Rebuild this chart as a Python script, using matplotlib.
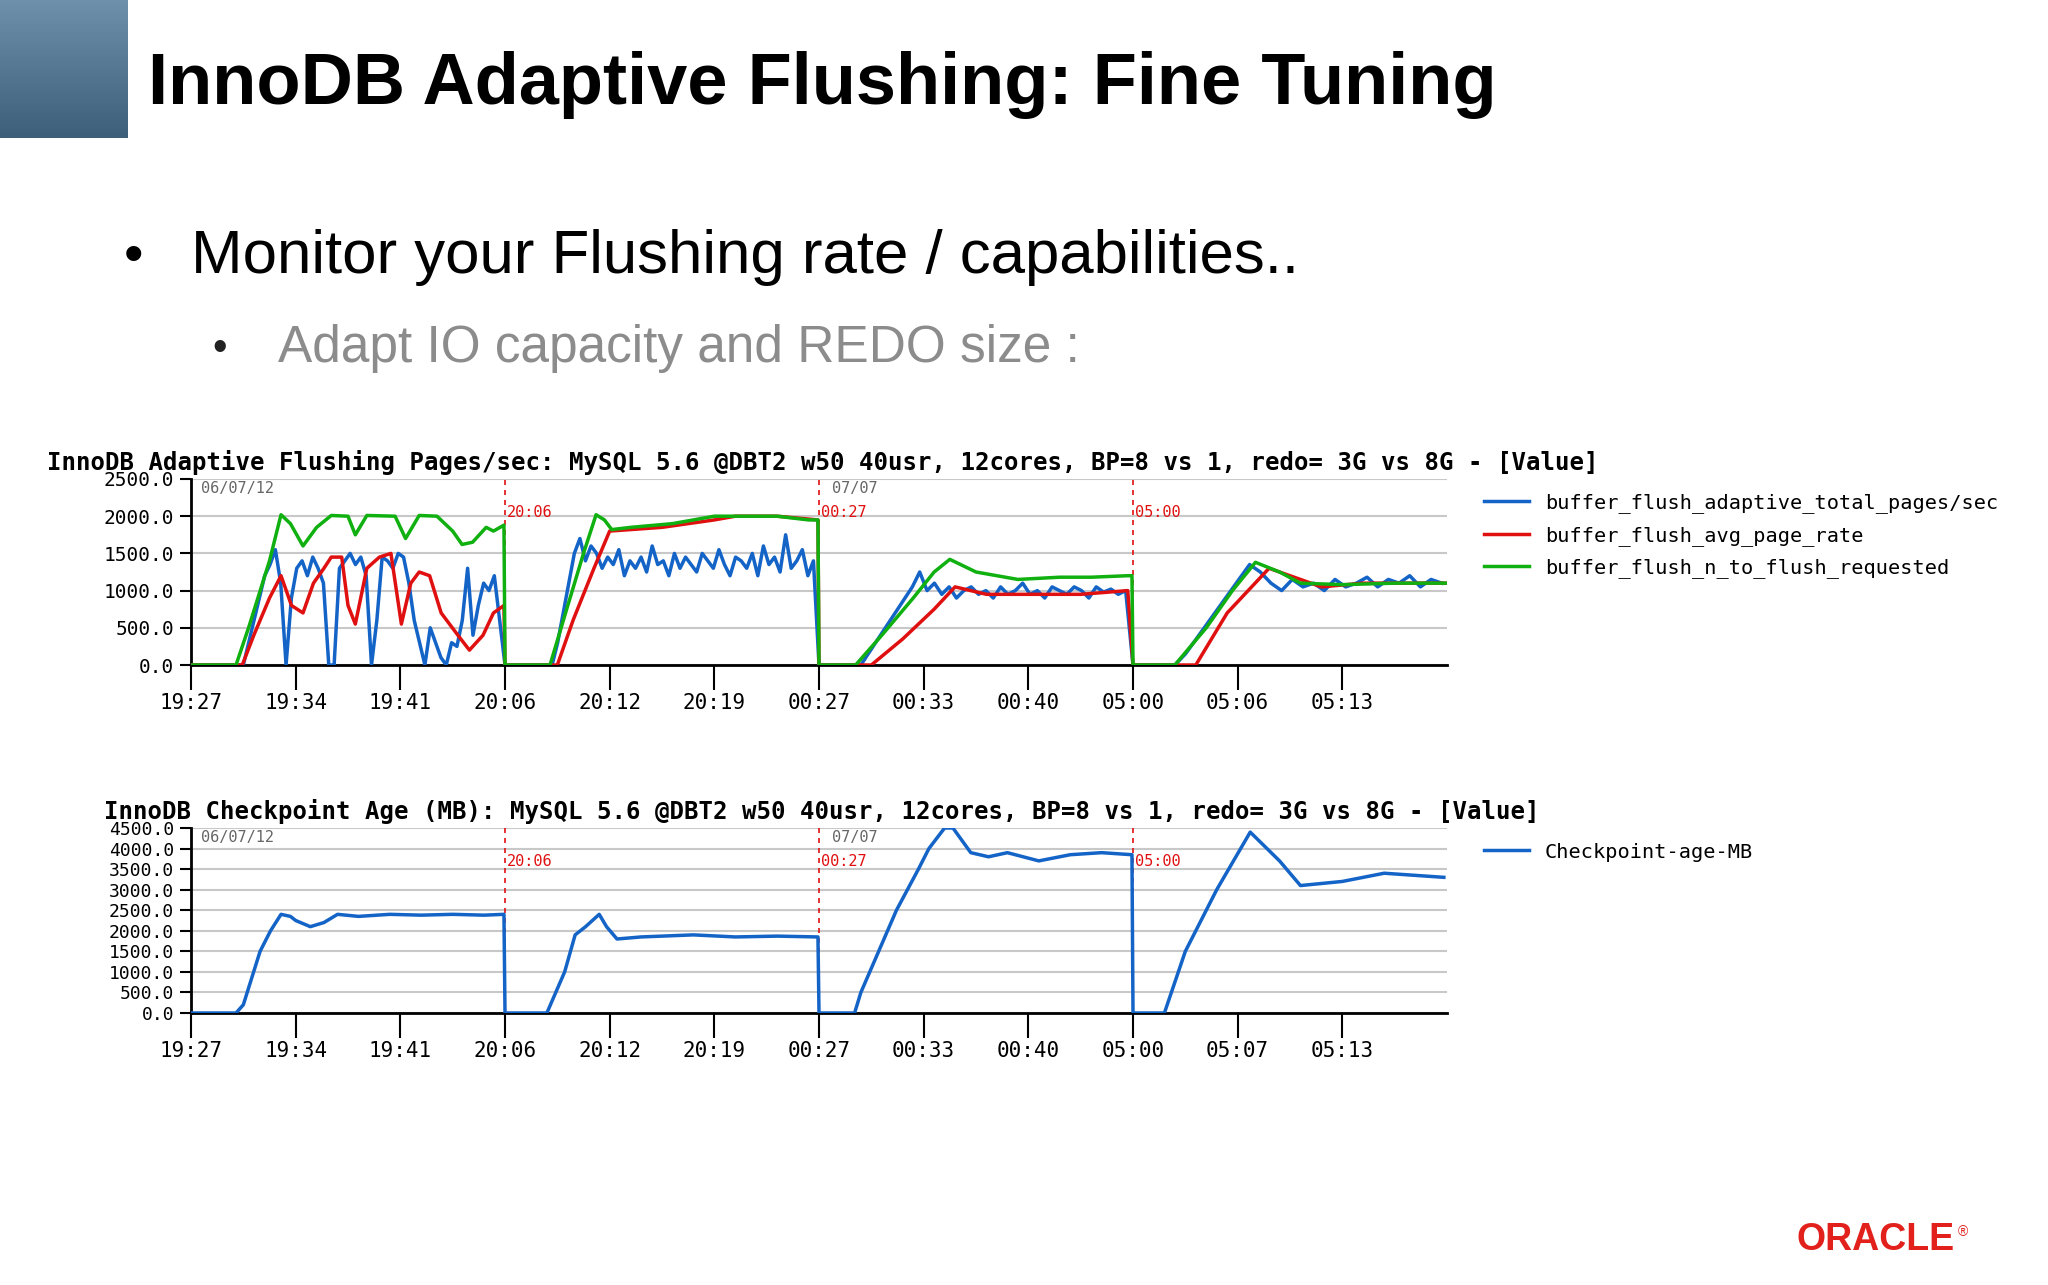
import matplotlib
matplotlib.use("Agg")
import matplotlib.pyplot as plt
import numpy as np

W, H = 2048, 1285
tick_labels_top = ["19:27","19:34","19:41","20:06","20:12","20:19","00:27","00:33","00:40","05:00","05:06","05:13"]
tick_labels_bot = ["19:27","19:34","19:41","20:06","20:12","20:19","00:27","00:33","00:40","05:00","05:07","05:13"]
restarts = [3, 6, 9]
restart_labels = ["20:06", "00:27", "05:00"]

# --- top chart: green (n_to_flush_requested)
green_x = [0,0.43,0.55,0.75,0.86,0.95,1.07,1.2,1.34,1.5,1.57,1.68,1.95,2.05,2.18,2.35,2.5,2.59,2.69,2.82,2.89,2.99,3.0,
           3.0,3.43,3.6,3.75,3.87,3.95,4.02,4.2,4.6,5.0,5.6,5.9,5.99,6.0,
           6.0,6.35,6.6,6.9,7.1,7.25,7.5,7.9,8.3,8.6,8.95,8.99,9.0,
           9.0,9.4,9.7,9.95,10.17,10.4,10.6,11.0,11.5,12.0]
green_y = [0,0,500,1400,2020,1900,1600,1850,2010,2000,1750,2010,2000,1700,2010,2000,1800,1620,1650,1850,1800,1880,0,
           0,0,800,1500,2020,1950,1820,1850,1900,2000,2000,1950,1950,0,
           0,0,400,900,1250,1420,1250,1150,1180,1180,1200,1200,0,
           0,0,500,1000,1380,1250,1100,1080,1100,1100]
red_x = [0,0.49,0.6,0.75,0.86,0.96,1.07,1.17,1.27,1.34,1.44,1.5,1.57,1.68,1.8,1.91,2.01,2.1,2.18,2.28,2.39,2.55,2.66,2.79,2.89,2.99,3.0,
         3.0,3.5,3.65,3.85,4.0,4.5,5.0,5.2,5.6,5.99,6.0,
         6.0,6.5,6.8,7.1,7.3,7.6,8.0,8.5,8.95,9.0,
         9.0,9.6,9.9,10.3,10.5,10.8,11.2,12.0]
red_y = [0,0,400,900,1200,800,700,1100,1300,1450,1450,800,550,1300,1450,1500,550,1100,1250,1200,700,400,200,400,700,800,0,
         0,0,600,1300,1800,1850,1950,2000,2000,1950,0,
         0,0,350,750,1050,950,950,950,1000,0,
         0,0,700,1300,1200,1050,1100,1100]
blue1_y = [0,300,600,900,1200,1350,1550,1100,0,900,1300,1400,1200,1450,1300,1100,0,0,1300,1400,1500,1350,1450,1200,0,
           600,1450,1400,1300,1500,1450,1100,600,300,0,500,300,100,0,300,250,600,1300,400,800,1100,1000,1200,600,0]
blue2_y = [0,300,700,1100,1500,1700,1400,1600,1500,1300,1450,1350,1550,1200,1400,1300,1450,1250,1600,1350,1400,1200,
           1500,1300,1450,1350,1250,1500,1400,1300,1550,1350,1200,1450,1400,1300,1500,1200,1600,1350,1450,1250,1750,1300,1400,
           1550,1200,1400,0]
blue3_y = [0,150,300,450,600,750,900,1050,1250,1000,1100,950,1050,900,1000,1050,950,1000,900,1050,950,1000,1100,950,1000,900,1050,
           1000,950,1050,1000,900,1050,980,1020,950,1000,0]
blue4_y = [0,150,350,550,750,950,1150,1350,1250,1100,1000,1150,1050,1100,1000,1150,1050,1100,1180,1050,1150,1100,1200,1050,1150,1100]

# --- bottom chart: checkpoint age
ck_x = [0,0.43,0.5,0.66,0.76,0.86,0.95,1.0,1.14,1.27,1.4,1.6,1.9,2.2,2.5,2.8,2.99,3.0,
        3.0,3.4,3.57,3.67,3.77,3.9,3.97,4.07,4.3,4.8,5.2,5.6,5.99,6.0,
        6.0,6.34,6.4,6.74,6.95,7.05,7.2,7.28,7.45,7.62,7.8,8.1,8.4,8.7,8.99,9.0,
        9.0,9.3,9.5,9.8,10.12,10.4,10.6,11.0,11.4,11.97]
ck_y = [0,0,200,1500,2000,2400,2350,2250,2100,2200,2400,2350,2400,2380,2400,2380,2400,0,
        0,0,1000,1900,2100,2400,2100,1800,1850,1900,1850,1870,1850,0,
        0,0,500,2500,3500,4000,4500,4500,3900,3800,3900,3700,3850,3900,3850,0,
        0,0,1500,3000,4400,3700,3100,3200,3400,3300]

BLUE = "#1464c8"; RED = "#e01010"; GREEN = "#10b010"

fig = plt.figure(figsize=(W/100, H/100), dpi=100)
fig.patch.set_facecolor("white")

# corner block
cax = fig.add_axes([0, 1-138/H, 128/W, 138/H])
grad = np.linspace(0, 1, 100).reshape(-1, 1)
cax.imshow(grad, aspect="auto", cmap=matplotlib.colors.LinearSegmentedColormap.from_list("c", ["#6f90aa", "#3e5f7a"]))
cax.axis("off")

sans = ["Liberation Sans", "DejaVu Sans"]
fig.text(148/W, 1-85/H, "InnoDB Adaptive Flushing: Fine Tuning", fontsize=52, fontweight="bold", family=sans, va="center")
fig.text(124/W, 1-258/H, "•", fontsize=40, family=sans, va="center")
fig.text(191/W, 1-258/H, "Monitor your Flushing rate / capabilities..", fontsize=44.5, family=sans, va="center")
fig.text(212/W, 1-349/H, "•", fontsize=30, family=sans, va="center", color="#222222")
fig.text(278/W, 1-349/H, "Adapt IO capacity and REDO size :", fontsize=37, family=sans, va="center", color="#8c8c8c")
fig.text(1955/W, 1-1240/H, "ORACLE", fontsize=27, fontweight="bold", family=sans, va="center", ha="right", color="#e2211c")
fig.text(1958/W, 1-1232/H, "®", fontsize=10, family=sans, va="center", color="#e2211c")

mono = "DejaVu Sans Mono"

def style_axes(ax, ymax, ystep, labels, date2="07/07"):
    ax.set_xlim(0, 12)
    ax.set_ylim(0, ymax)
    ax.set_yticks(np.arange(0, ymax + 1, ystep))
    ax.set_yticklabels([f"{v:.1f}" for v in np.arange(0, ymax + 1, ystep)], family=mono, fontsize=14)
    ax.set_xticks(range(12))
    ax.set_xticklabels(labels, family=mono, fontsize=15)
    ax.grid(axis="y", color="#c8c8c8", lw=1.5)
    ax.set_axisbelow(True)
    for s in ["top", "right"]:
        ax.spines[s].set_visible(False)
    ax.spines["left"].set_linewidth(2)
    ax.spines["bottom"].set_linewidth(2)
    ax.tick_params(axis="x", length=18, width=1.5, pad=2)
    ax.tick_params(axis="y", length=8, width=1.5, pad=4)
    for xr, lab in zip(restarts, restart_labels):
        ax.axvline(xr, color=RED, ls=(0, (3, 3)), lw=1.2, zorder=1)
        ax.text(xr + 0.02, ymax * 0.82, lab, color=RED, family=mono, fontsize=11, va="center")
    ax.text(0.1, ymax * 0.95, "06/07/12", color="#666666", family=mono, fontsize=11, va="center")
    ax.text(6.12, ymax * 0.95, date2, color="#666666", family=mono, fontsize=11, va="center")

ax1 = fig.add_axes([191/W, 1-665/H, (1447-191)/W, (665-479)/H])
style_axes(ax1, 2500, 500, tick_labels_top)
segs = [(0.5, 3.0, blue1_y), (3.45, 6.0, blue2_y), (6.4, 9.0, blue3_y), (9.4, 11.95, blue4_y)]
for i, (a, b, ys) in enumerate(segs):
    xs = np.linspace(a, b, len(ys))
    ax1.plot(np.r_[a - (0.5 if i == 0 else 0.4), xs], np.r_[0, ys], color=BLUE, lw=2.5, zorder=3,
             label="buffer_flush_adaptive_total_pages/sec" if i == 0 else None)
ax1.plot(red_x, red_y, color=RED, lw=2.5, zorder=4, label="buffer_flush_avg_page_rate")
ax1.plot(green_x, green_y, color=GREEN, lw=2.5, zorder=5, label="buffer_flush_n_to_flush_requested")
fig.text(47/W, 1-462/H, "InnoDB Adaptive Flushing Pages/sec: MySQL 5.6 @DBT2 w50 40usr, 12cores, BP=8 vs 1, redo= 3G vs 8G - [Value]",
         family=mono, fontweight="bold", fontsize=17.3, va="center")
ax1.legend(loc="upper left", bbox_to_anchor=(1.015, 1.02), frameon=False, prop={"family": mono, "size": 14.6},
           handlelength=2.2, labelspacing=0.6)

ax2 = fig.add_axes([191/W, 1-1013/H, (1447-191)/W, (1013-828)/H])
style_axes(ax2, 4500, 500, tick_labels_bot)
ax2.set_yticklabels([f"{v:.1f}" for v in np.arange(0, 4501, 500)], family=mono, fontsize=13)
ax2.plot(ck_x, ck_y, color=BLUE, lw=2.5, label="Checkpoint-age-MB", zorder=3)
fig.text(104/W, 1-812/H, "InnoDB Checkpoint Age (MB): MySQL 5.6 @DBT2 w50 40usr, 12cores, BP=8 vs 1, redo= 3G vs 8G - [Value]",
         family=mono, fontweight="bold", fontsize=17.3, va="center")
ax2.legend(loc="upper left", bbox_to_anchor=(1.015, 1.02), frameon=False, prop={"family": mono, "size": 14.6}, handlelength=2.2)

fig.savefig("out.png", dpi=100)
